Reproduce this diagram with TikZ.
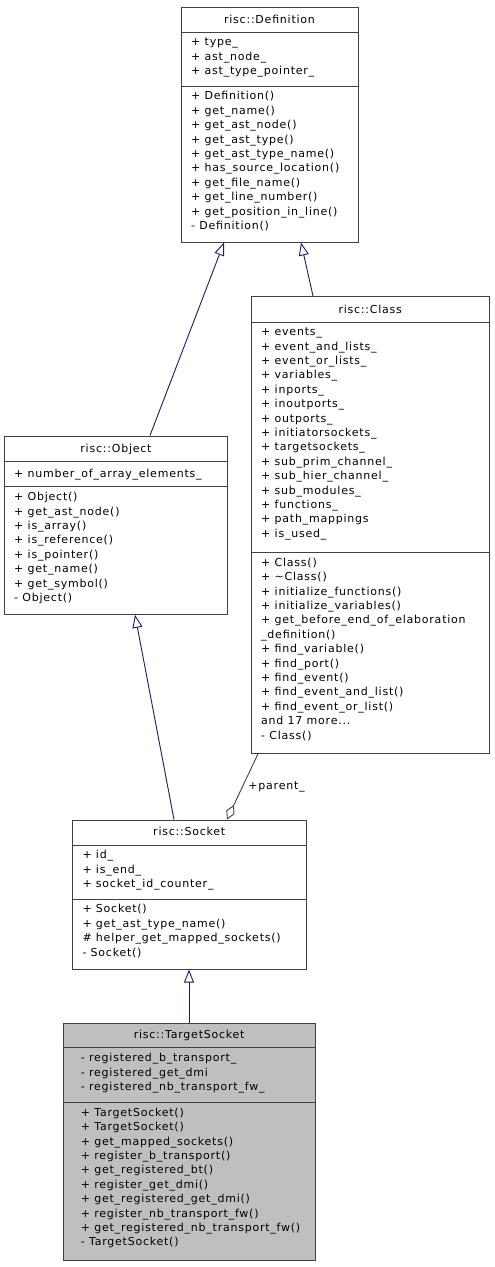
\documentclass[tikz,border=0pt]{standalone}
\usepackage{fontspec}
\newfontfamily\umlfont{DejaVu Sans}[LetterSpace=7]
\usetikzlibrary{arrows.meta, calc, fit, positioning}
\definecolor{edgeblue}{RGB}{25,25,112}
\definecolor{edgegray}{RGB}{64,64,64}

\begin{document}
\begin{tikzpicture}[x=1pt, y=-1pt, font=\umlfont\fontsize{11}{14.4}\selectfont,
  box/.style={draw=black!75, line width=1pt, inner sep=0pt},
  sepline/.style={draw=black!75, line width=1pt},
  title/.style={anchor=base, inner sep=0pt},
  members/.style={anchor=north west, inner sep=0pt, align=left, execute at begin node=\strut},
  inherit/.style={draw=edgeblue, line width=0.9pt, -{Triangle[open, length=13pt, width=10pt]}},
  usage/.style={draw=edgegray, line width=0.9pt, -{Diamond[open, length=16pt, width=9pt]}}]

  \useasboundingbox (0,0) rectangle (495,1267);

  % risc::Definition
  \node[box, fit={(181,7) (358,242)}] (def) {};
  \draw[sepline] (def.west |- 0,32.3) -- (def.east |- 0,32.3);
  \draw[sepline] (def.west |- 0,86) -- (def.east |- 0,86);
  \node[title] (def-name) at (def.north |- 0,23) {risc::Definition};
  \node[members] (def-attr) at (191,37.7) {+ type\_\\+ ast\_node\_\\+ ast\_type\_pointer\_};
  \node[members] (def-ops) at (191,91.4) {+ Definition()\\+ get\_name()\\+ get\_ast\_node()\\+ get\_ast\_type()\\+ get\_ast\_type\_name()\\+ has\_source\_location()\\+ get\_file\_name()\\+ get\_line\_number()\\+ get\_position\_in\_line()\\- Definition()};

  % risc::Class
  \node[box, fit={(251.5,296.5) (489,753.3)}] (cls) {};
  \draw[sepline] (cls.west |- 0,322.3) -- (cls.east |- 0,322.3);
  \draw[sepline] (cls.west |- 0,552.3) -- (cls.east |- 0,552.3);
  \node[title] (cls-name) at (cls.north |- 0,313) {risc::Class};
  \node[members] (cls-attr) at (261,327.7) {+ events\_\\+ event\_and\_lists\_\\+ event\_or\_lists\_\\+ variables\_\\+ inports\_\\+ inoutports\_\\+ outports\_\\+ initiatorsockets\_\\+ targetsockets\_\\+ sub\_prim\_channel\_\\+ sub\_hier\_channel\_\\+ sub\_modules\_\\+ functions\_\\+ path\_mappings\\+ is\_used\_};
  \node[members] (cls-ops) at (261,557.7) {+ Class()\\+ \textasciitilde Class()\\+ initialize\_functions()\\+ initialize\_variables()\\+ get\_before\_end\_of\_elaboration\\\_definition()\\+ find\_variable()\\+ find\_port()\\+ find\_event()\\+ find\_event\_and\_list()\\+ find\_event\_or\_list()\\and 17 more...\\- Class()};

  % risc::Object
  \node[box, fit={(4.5,436) (227.5,614.3)}] (obj) {};
  \draw[sepline] (obj.west |- 0,461.7) -- (obj.east |- 0,461.7);
  \draw[sepline] (obj.west |- 0,486.7) -- (obj.east |- 0,486.7);
  \node[title] (obj-name) at (obj.north |- 0,452.4) {risc::Object};
  \node[members] (obj-attr) at (14,467.1) {+ number\_of\_array\_elements\_};
  \node[members] (obj-ops) at (14,492.1) {+ Object()\\+ get\_ast\_node()\\+ is\_array()\\+ is\_reference()\\+ is\_pointer()\\+ get\_name()\\+ get\_symbol()\\- Object()};

  % risc::Socket
  \node[box, fit={(72.5,820) (306,969)}] (sock) {};
  \draw[sepline] (sock.west |- 0,845) -- (sock.east |- 0,845);
  \draw[sepline] (sock.west |- 0,899) -- (sock.east |- 0,899);
  \node[title] (sock-name) at (sock.north |- 0,835.7) {risc::Socket};
  \node[members] (sock-attr) at (82.3,850.4) {+ id\_\\+ is\_end\_\\+ socket\_id\_counter\_};
  \node[members] (sock-ops) at (82.3,904.4) {+ Socket()\\+ get\_ast\_type\_name()\\\# helper\_get\_mapped\_sockets()\\- Socket()};

  % risc::TargetSocket
  \node[box, fill=black!25, fit={(63.3,1023.3) (315,1260)}] (tsock) {};
  \draw[sepline] (tsock.west |- 0,1047.7) -- (tsock.east |- 0,1047.7);
  \draw[sepline] (tsock.west |- 0,1102.3) -- (tsock.east |- 0,1102.3);
  \node[title] (tsock-name) at (tsock.north |- 0,1038.4) {risc::TargetSocket};
  \node[members] (tsock-attr) at (80.7,1053.1) {- registered\_b\_transport\_\\- registered\_get\_dmi\\- registered\_nb\_transport\_fw\_};
  \node[members] (tsock-ops) at (80.7,1107.7) {+ TargetSocket()\\+ TargetSocket()\\+ get\_mapped\_sockets()\\+ register\_b\_transport()\\+ get\_registered\_bt()\\+ register\_get\_dmi()\\+ get\_registered\_get\_dmi()\\+ register\_nb\_transport\_fw()\\+ get\_registered\_nb\_transport\_fw()\\- TargetSocket()};

  % inheritance and usage
  \draw[inherit] (150,0 |- obj.north) -- (224,0 |- def.south);
  \draw[inherit] (313,0 |- cls.north) -- (301,0 |- def.south);
  \draw[inherit] (174,0 |- sock.north) -- (135,0 |- obj.south);
  \draw[inherit] (189,0 |- tsock.north) -- (189,0 |- sock.south);
  \draw[usage] (258,0 |- cls.south) -- node[anchor=west, inner sep=0pt, xshift=5.5pt] (parent) {+parent\_} (227,0 |- sock.north);
\end{tikzpicture}
\end{document}
